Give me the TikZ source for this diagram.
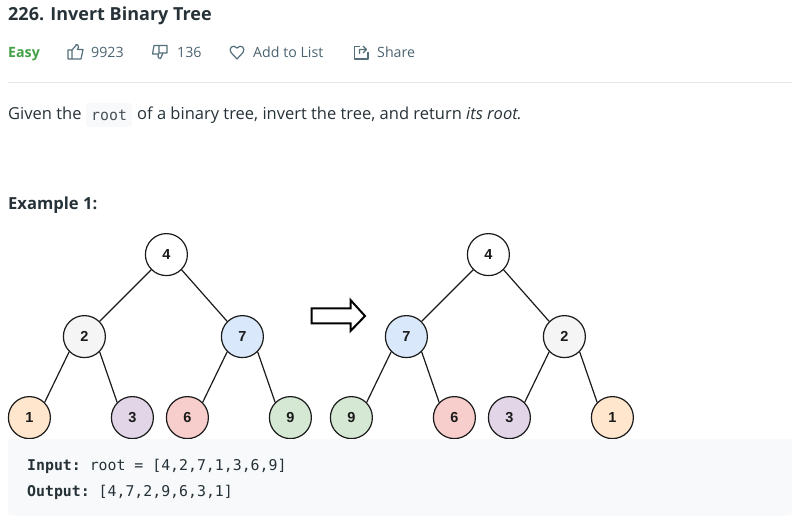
\documentclass[tikz,border=0pt]{standalone}
\usepackage{fontspec}
\setmainfont{Open Sans}
\setmonofont{DejaVu Sans Mono}
\newfontfamily\nodefont{Liberation Sans}
\usetikzlibrary{positioning}
\definecolor{bordergray}{HTML}{1A1A1A}
\definecolor{icongray}{HTML}{546E7A}
\definecolor{easygreen}{HTML}{43A047}
\definecolor{codebg}{HTML}{F7F9FA}
\definecolor{textdark}{HTML}{263238}
\definecolor{fillorange}{HTML}{FFE6CC}
\definecolor{fillpurple}{HTML}{E1D5E7}
\definecolor{fillred}{HTML}{F8CECC}
\definecolor{fillgreen}{HTML}{D5E8D4}
\definecolor{fillblue}{HTML}{DAE8FC}
\definecolor{fillgray}{HTML}{F5F5F5}
\tikzset{
  tree/.style={circle,draw=bordergray,line width=1.2pt,minimum size=42pt,inner sep=0pt,font=\nodefont\bfseries\fontsize{14.5}{14.5}\selectfont,text=bordergray},
  meta/.style={anchor=base west,inner sep=0pt,text=icongray!90!black,font=\fontsize{14.2}{15}\selectfont},
  icon/.style={draw=icongray,line width=1.2pt,line join=round},
  code/.style={anchor=base west,inner sep=0pt,text=textdark,font=\ttfamily\fontsize{14.85}{15}\selectfont},
  prose/.style={anchor=base west,inner sep=0pt,text=textdark,font=\fontsize{16.5}{17}\selectfont},
  edge/.style={draw=bordergray,line width=1.2pt}
}
\begin{document}
\begin{tikzpicture}[x=1pt,y=-1pt]
\useasboundingbox (0,0) rectangle (795,526);
% header
\node[anchor=base west,inner sep=0pt,text=textdark,font=\bfseries\fontsize{18}{18}\selectfont] (title) at (8,20.5) {226. Invert Binary Tree};
\node[anchor=base west,inner sep=0pt,text=easygreen,font=\bfseries\fontsize{14.2}{15}\selectfont] (easy) at (8,58) {Easy};
\node[meta] (likes) at (91,58) {9923};
\node[meta] (dislikes) at (177,58) {136};
\node[meta] (addlist) at (253,58) {Add to List};
\node[meta] (share) at (377,58) {Share};
\draw[icon] (68,50) rectangle (72,59) (72,50) -- (76,45.5) -- (76,44.5) .. controls (77,44.5) and (79,45) .. (78.5,47) -- (77.5,49.5) -- (83,49.5) -- (81,59) -- (72,59);
\draw[icon] (163,53) -- (159,53) -- (159,45.5) -- (167,45.5) -- (167,53) -- (163,53) -- (160.5,58.5) .. controls (159,58.5) and (157.5,57.5) .. (158,56) -- (158.5,54) -- (152.5,54) -- (154,45.5) -- (159,45.5);
\draw[icon] (237,59) -- (231,52.5) .. controls (228,48.5) and (233,43.5) .. (237,48) .. controls (241,43.5) and (246,48.5) .. (243,52.5) -- cycle;
\draw[icon] (360,46.5) -- (354.5,46.5) -- (354.5,59) -- (368,59) -- (368,52);
\draw[icon] (359.5,54) -- (359.5,49.5) -- (366,49.5) (363,46) -- (366.5,49.5) -- (363,53);
\draw[draw=black!10,line width=.8pt] (8,82.5) -- (792,82.5);
\node[prose] (given) at (8,120) {Given the};
\fill[codebg,rounded corners=3pt] (86,103) rectangle (132,127);
\node[code,text=textdark!85] (root) at (91,120.5) {root};
\node[prose] (desc) at (137,120) {of a binary tree, invert the tree, and return \itshape its root.};
\node[prose,font=\bfseries\fontsize{16.6}{17}\selectfont] (example) at (8,209.5) {Example 1:};
\begin{scope}[shift={(0.4,0.6)}]
% left tree
\node[tree] (la) at (166,254) {4};
\node[tree,fill=fillgray] (lb) at (84,336) {2};
\node[tree,fill=fillblue] (lc) at (242,336) {7};
\node[tree,fill=fillorange] (ld) at (29,417) {1};
\node[tree,fill=fillpurple] (le) at (132,417) {3};
\node[tree,fill=fillred] (lf) at (187,417) {6};
\node[tree,fill=fillgreen] (lg) at (290,417) {9};
\draw[edge] (la.225) -- (lb.45);
\draw[edge] (la.315) -- (lc.135);
\draw[edge] (lb.225) -- (ld.45);
\draw[edge] (lb.315) -- (le.135);
\draw[edge] (lc.225) -- (lf.45);
\draw[edge] (lc.315) -- (lg.135);
% right tree
\node[tree] (ra) at (488,254) {4};
\node[tree,fill=fillblue] (rb) at (406,336) {7};
\node[tree,fill=fillgray] (rc) at (564,336) {2};
\node[tree,fill=fillgreen] (rd) at (351,417) {9};
\node[tree,fill=fillred] (re) at (454,417) {6};
\node[tree,fill=fillpurple] (rf) at (509,417) {3};
\node[tree,fill=fillorange] (rg) at (612,417) {1};
\draw[edge] (ra.225) -- (rb.45);
\draw[edge] (ra.315) -- (rc.135);
\draw[edge] (rb.225) -- (rd.45);
\draw[edge] (rb.315) -- (re.135);
\draw[edge] (rc.225) -- (rf.45);
\draw[edge] (rc.315) -- (rg.135);
\end{scope}
% arrow
\draw[black,line width=2pt,line join=miter] (311.5,308.5) -- (350.5,308.5) -- (350.5,300) -- (365,316) -- (350.5,331) -- (350.5,323.5) -- (311.5,323.5) -- cycle;
% code box
\fill[codebg,rounded corners=3pt] (8,439) rectangle (792,515.5);
\node[code] (input) at (27,470) {\textbf{Input:} root = [4,2,7,1,3,6,9]};
\node[code] (output) at (27,496) {\textbf{Output:} [4,7,2,9,6,3,1]};
\end{tikzpicture}
\end{document}
